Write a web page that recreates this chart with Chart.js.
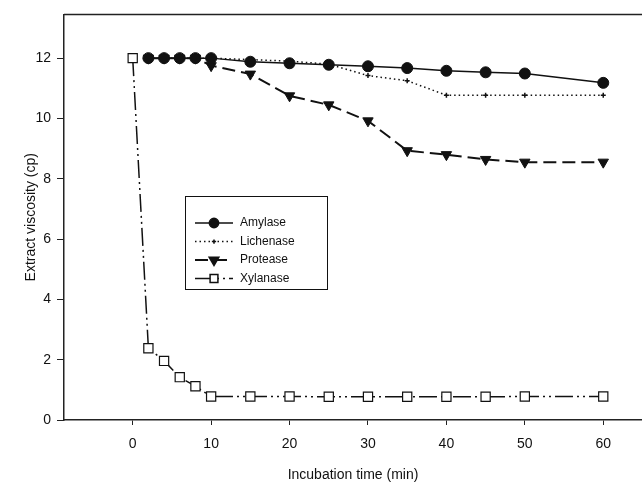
<!DOCTYPE html>
<html lang="en">

<head>
  <meta charset="UTF-8" />
  <title>Extract viscosity</title>
  <script src="https://cdn.jsdelivr.net/npm/chart.js"></script>
  <style>
    body,
    html {
      margin: 0;
      background: #ffffff;
      overflow: hidden;
    }

    .grafico {
      position: relative;
      width: 642px;
      height: 485px;
    }
  </style>
</head>

<body>
  <div class="grafico">
    <canvas id="graficoViscosidade" role="img" aria-label="Extract viscosity over incubation time"></canvas>
  </div>

  <script>
    // data
    const tempos = [2, 4, 6, 8, 10, 15, 20, 25, 30, 35, 40, 45, 50, 60];
    const temposXilanase = [0, 2, 4, 6, 8, 10, 15, 20, 25, 30, 35, 40, 45, 50, 60];
    const amilase = [12, 12, 12, 12, 12, 11.88, 11.83, 11.78, 11.73, 11.67, 11.58, 11.53, 11.49, 11.18];
    const liquenase = [12, 12, 12, 12, 12, 11.95, 11.9, 11.8, 11.42, 11.25, 10.77, 10.77, 10.77, 10.77];
    const protease = [12, 12, 12, 12, 11.75, 11.47, 10.75, 10.45, 9.92, 8.93, 8.8, 8.64, 8.55, 8.55];
    const xilanase = [12, 2.38, 1.96, 1.42, 1.12, 0.78, 0.78, 0.78, 0.77, 0.77, 0.77, 0.77, 0.77, 0.78, 0.78];
    const ticksX = [0, 10, 20, 30, 40, 50, 60];
    const ticksY = [0, 2, 4, 6, 8, 10, 12];

    const preto = '#111111';
    const pares = (xs, ys) => xs.map((x, i) => ({ x: x, y: ys[i] }));

    // top border of the frame
    const bordaTopo = {
      id: 'bordaTopo',
      afterDraw(chart) {
        const { ctx, chartArea } = chart;
        ctx.save();
        ctx.strokeStyle = '#222';
        ctx.lineWidth = 1.5;
        ctx.beginPath();
        ctx.moveTo(chartArea.left, chartArea.top);
        ctx.lineTo(chartArea.right, chartArea.top);
        ctx.stroke();
        ctx.restore();
      }
    };

    // boxed legend inside the plot
    const legendaCaixa = {
      id: 'legendaCaixa',
      afterDraw(chart) {
        const ctx = chart.ctx;
        const x0 = 185, y0 = 196, w = 142, h = 93;
        ctx.save();
        ctx.strokeStyle = preto;
        ctx.lineWidth = 1;
        ctx.setLineDash([]);
        ctx.strokeRect(x0 + 0.5, y0 + 0.5, w, h);
        chart.data.datasets.forEach((ds, i) => {
          const y = 223 + i * 18.5;
          ctx.strokeStyle = ds.borderColor;
          ctx.lineWidth = ds.borderWidth;
          ctx.setLineDash(ds.borderDash || []);
          ctx.beginPath();
          ctx.moveTo(195, y);
          ctx.lineTo(233, y);
          ctx.stroke();
          ctx.setLineDash([]);
          ctx.fillStyle = ds.pointBackgroundColor;
          ctx.strokeStyle = ds.pointBorderColor;
          Chart.helpers.drawPoint(ctx, {
            pointStyle: ds.pointStyle,
            radius: ds.pointRadius * 0.85,
            rotation: ds.pointRotation || 0,
            borderWidth: ds.pointBorderWidth
          }, 214, y);
          ctx.fillStyle = preto;
          ctx.font = '12px "Liberation Sans", Arial, sans-serif';
          ctx.textAlign = 'left';
          ctx.textBaseline = 'middle';
          ctx.fillText(ds.label, 240, y);
        });
        ctx.restore();
      }
    };

    new Chart(document.getElementById('graficoViscosidade'), {
      type: 'line',
      data: {
        datasets: [{
          label: 'Amylase',
          data: pares(tempos, amilase),
          borderColor: preto,
          borderWidth: 1.5,
          pointStyle: 'circle',
          pointRadius: 5.5,
          pointBackgroundColor: preto,
          pointBorderColor: preto,
          pointBorderWidth: 1
        }, {
          label: 'Lichenase',
          data: pares(tempos, liquenase),
          borderColor: preto,
          borderWidth: 1.5,
          borderDash: [1.5, 3],
          pointStyle: 'cross',
          pointRadius: 2.5,
          pointBackgroundColor: preto,
          pointBorderColor: preto,
          pointBorderWidth: 1.5
        }, {
          label: 'Protease',
          data: pares(tempos, protease),
          borderColor: preto,
          borderWidth: 2,
          borderDash: [13, 6],
          pointStyle: 'triangle',
          pointRotation: 180,
          pointRadius: 6,
          pointBackgroundColor: preto,
          pointBorderColor: preto,
          pointBorderWidth: 1
        }, {
          label: 'Xylanase',
          data: pares(temposXilanase, xilanase),
          borderColor: preto,
          borderWidth: 1.5,
          borderDash: [18, 4, 2, 4, 2, 4],
          pointStyle: 'rect',
          pointRadius: 6.5,
          pointBackgroundColor: '#ffffff',
          pointBorderColor: preto,
          pointBorderWidth: 1.2
        }]
      },
      options: {
        responsive: true,
        maintainAspectRatio: false,
        animation: false,
        layout: { autoPadding: false, padding: { top: 12, right: 0, bottom: 0, left: 0 } },
        plugins: {
          legend: { display: false },
          tooltip: { enabled: false }
        },
        scales: {
          x: {
            type: 'linear',
            min: -8.76,
            max: 64.94,
            afterBuildTicks: (escala) => { escala.ticks = ticksX.map(v => ({ value: v })); },
            afterFit: (escala) => {
              escala.height = 65;
              escala.paddingLeft = 0;
              escala.paddingRight = 0;
            },
            grid: { display: true, drawOnChartArea: false, tickLength: 5, color: '#222' },
            border: { display: true, color: '#222', width: 1.5 },
            ticks: {
              color: preto,
              padding: 11,
              maxRotation: 0,
              font: { family: '"Liberation Sans", Arial, sans-serif', size: 14 }
            },
            title: {
              display: true,
              text: 'Incubation time (min)',
              color: preto,
              padding: { top: 0, bottom: 1 },
              font: { family: '"Liberation Sans", Arial, sans-serif', size: 14 }
            }
          },
          y: {
            min: 0,
            max: 13.45,
            afterBuildTicks: (escala) => { escala.ticks = ticksY.map(v => ({ value: v })); },
            afterFit: (escala) => { escala.width = 64; },
            grid: { display: true, drawOnChartArea: false, tickLength: 7, color: '#222' },
            border: { display: true, color: '#222', width: 1.5 },
            ticks: {
              color: preto,
              padding: 6,
              font: { family: '"Liberation Sans", Arial, sans-serif', size: 14 }
            },
            title: {
              display: true,
              text: 'Extract viscosity (cp)',
              color: preto,
              padding: { top: 23, bottom: 0 },
              font: { family: '"Liberation Sans", Arial, sans-serif', size: 14 }
            }
          }
        }
      },
      plugins: [bordaTopo, legendaCaixa]
    });
  </script>
</body>

</html>
